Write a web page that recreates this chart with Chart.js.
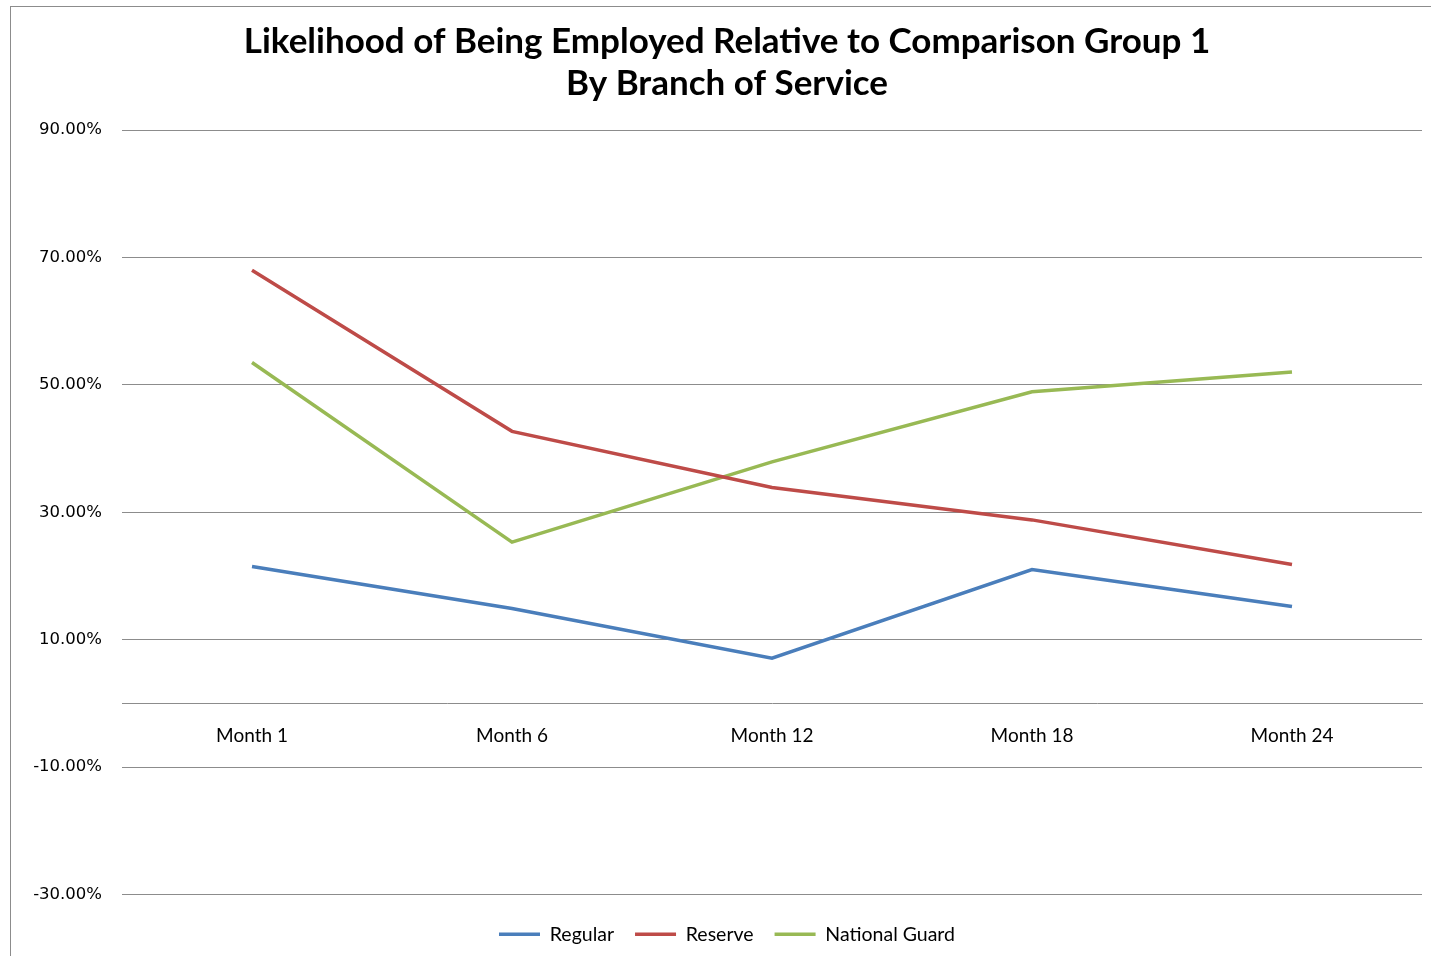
<!DOCTYPE html>
<html>
<head>
  <title>Likelihood of Being Employed by Branch of Service</title>
  <script src="https://cdn.jsdelivr.net/npm/chart.js"></script>
  <style>
    html, body { margin: 0; padding: 0; background: #fff; }
    #wrap { position: relative; width: 1431px; height: 956px; overflow: hidden; }
    #frame {
      position: absolute; left: 10px; top: 6px; width: 1500px; height: 1000px;
      border-left: 1px solid #8c8c8c; border-top: 1px solid #8c8c8c;
    }
    canvas { position: absolute; left: 0; top: 0; }
  </style>
</head>
<body>
  <div id="wrap">
    <div id="frame"></div>
    <canvas id="employChart" width="1431" height="956"></canvas>
  </div>

  <script>
    const months = ['Month 1', 'Month 6', 'Month 12', 'Month 18', 'Month 24'];
    const regular = [21.5, 14.9, 7.1, 21.0, 15.2];
    const reserve = [68.0, 42.7, 33.9, 28.8, 21.8];
    const nationalGuard = [53.5, 25.3, 37.9, 48.9, 52.0];
    const yTicks = [-30, -10, 10, 30, 50, 70, 90];

    const gridGrey = '#8c8c8c';

    function series(label, data, color) {
      return {
        label: label,
        data: data,
        xAxisID: 'x',
        yAxisID: 'y',
        borderColor: color,
        backgroundColor: color,
        borderWidth: 3.5,
        pointRadius: 0,
        tension: 0
      };
    }

    const ctx = document.getElementById('employChart').getContext('2d');
    new Chart(ctx, {
      type: 'line',
      data: {
        labels: months,
        datasets: [
          series('Regular', regular, '#4a7ebb'),
          series('Reserve', reserve, '#be4b48'),
          series('National Guard', nationalGuard, '#98b954')
        ]
      },
      options: {
        responsive: false,
        animation: false,
        layout: { padding: { left: 32, right: 9, top: 0, bottom: 2 } },
        plugins: {
          title: {
            display: true,
            text: ['Likelihood of Being Employed Relative to Comparison Group 1', 'By Branch of Service'],
            color: '#000',
            font: { family: 'Lato', size: 35, weight: 'bold', lineHeight: 1.2 },
            padding: { top: 21, bottom: 25 }
          },
          legend: {
            position: 'bottom',
            labels: {
              usePointStyle: true,
              pointStyle: 'line',
              pointStyleWidth: 41,
              color: '#000',
              font: { family: 'Lato', size: 19.5 },
              padding: 21
            }
          },
          tooltip: { enabled: false }
        },
        scales: {
          x: {
            position: { y: 0 },
            offset: true,
            grid: { display: false, drawTicks: false },
            border: { display: true, color: gridGrey, width: 1 },
            ticks: {
              color: '#000',
              font: { family: 'Lato', size: 19 },
              padding: 21,
              maxRotation: 0
            }
          },
          // empty strip that keeps the legend clear of the lowest gridline
          gap: {
            type: 'category',
            position: 'bottom',
            grid: { display: false, drawTicks: false },
            border: { display: false },
            ticks: { display: false },
            afterFit: function (scale) { scale.height = 9; }
          },
          y: {
            min: -30,
            max: 90,
            afterBuildTicks: function (scale) {
              scale.ticks = yTicks.map(v => ({ value: v }));
            },
            afterFit: function (scale) { scale.width = 90; },
            grid: { color: gridGrey, lineWidth: 1, drawTicks: false },
            border: { display: false },
            ticks: {
              color: '#000',
              font: { family: 'DejaVu Sans', size: 16.5 },
              padding: 20,
              callback: v => v.toFixed(2) + '%'
            }
          }
        }
      }
    });
  </script>
</body>
</html>
